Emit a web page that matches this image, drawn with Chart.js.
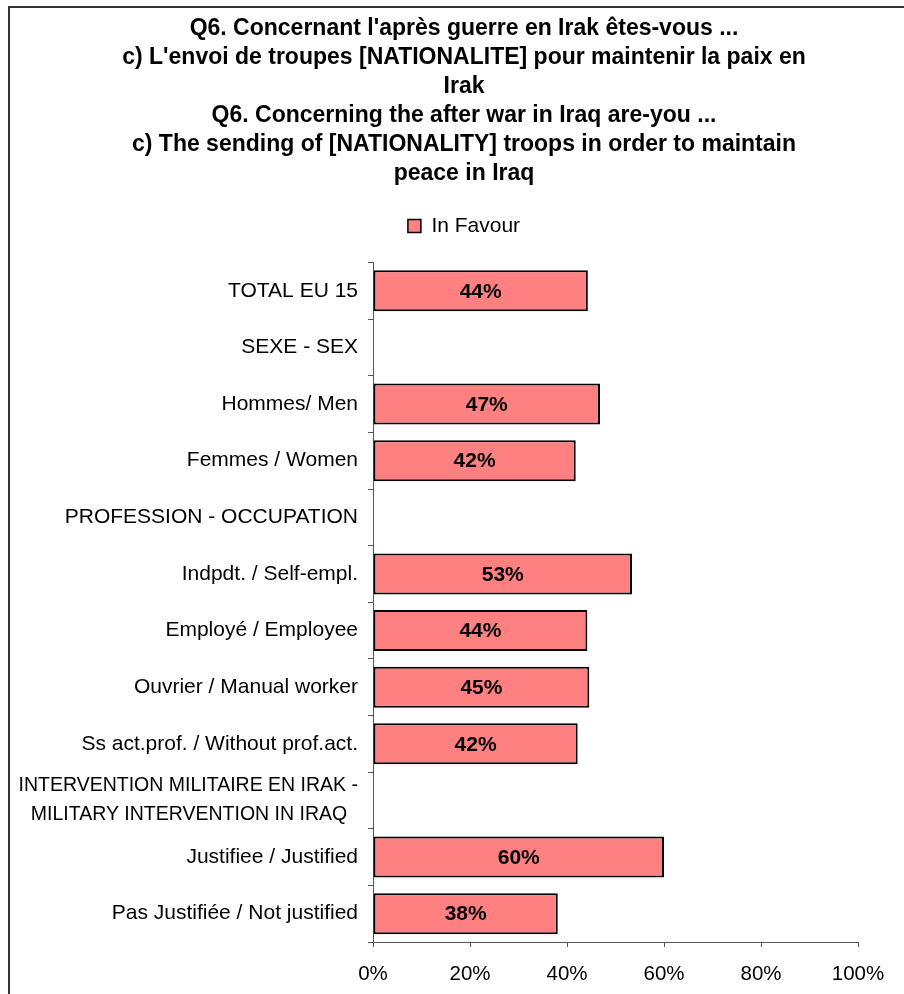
<!DOCTYPE html>
<html>
<head>
<meta charset="utf-8">
<script src="https://cdn.jsdelivr.net/npm/chart.js@4/dist/chart.umd.min.js"></script>
<style>
html,body{margin:0;padding:0;background:#fff;}
#wrap{width:904px;height:994px;position:relative;}
</style>
</head>
<body>
<div id="wrap"><canvas id="c" width="904" height="994"></canvas></div>
<script>
const titleLines = [
  "Q6. Concernant l'après guerre en Irak êtes-vous ...",
  "c) L'envoi de troupes [NATIONALITE] pour maintenir la paix en",
  "Irak",
  "Q6. Concerning the after war in Iraq are-you ...",
  "c) The sending of [NATIONALITY] troops in order to maintain",
  "peace in Iraq"
];
const categories = [
  "TOTAL EU 15",
  "SEXE - SEX",
  "Hommes/ Men",
  "Femmes / Women",
  "PROFESSION - OCCUPATION",
  "Indpdt. / Self-empl.",
  "Employé / Employee",
  "Ouvrier / Manual worker",
  "Ss act.prof. / Without prof.act.",
  ["INTERVENTION MILITAIRE EN IRAK -", "MILITARY INTERVENTION IN IRAQ  "],
  "Justifiee / Justified",
  "Pas Justifiée / Not justified"
];
const seriesName = "In Favour";
const inFavour = [44.3, null, 46.8, 41.8, null, 53.4, 44.2, 44.6, 42.2, null, 60.0, 38.1];
const xTicks = [0, 20, 40, 60, 80, 100];

const FONT = "'Liberation Sans', Arial, sans-serif";

const framePlugin = {
  id: 'frame',
  beforeDraw(chart) {
    const ctx = chart.ctx;
    ctx.save();
    ctx.fillStyle = '#fff';
    ctx.fillRect(0, 0, chart.width, chart.height);
    ctx.strokeStyle = '#333';
    ctx.lineWidth = 2;
    ctx.beginPath();
    ctx.moveTo(9, 994);
    ctx.lineTo(9, 7);
    ctx.lineTo(904, 7);
    ctx.stroke();
    ctx.restore();
  }
};

// extra space below the legend; let the category labels use the full left margin
const layoutTweaks = {
  id: 'layoutTweaks',
  beforeLayout(chart) {
    const lg = chart.legend;
    if (lg && !lg._gapPatched) {
      const orig = lg.fit;
      lg.fit = function () { orig.apply(this, arguments); this.height += 16; };
      lg._gapPatched = true;
    }
  },
  afterLayout(chart) {
    const y = chart.scales.y;
    if (y) y.left = 10;
  }
};

const valueLabels = {
  id: 'valueLabels',
  afterDatasetsDraw(chart) {
    const ctx = chart.ctx;
    ctx.save();
    ctx.font = "bold 21px " + FONT;
    ctx.fillStyle = '#000';
    ctx.textAlign = 'center';
    ctx.textBaseline = 'middle';
    chart.getDatasetMeta(0).data.forEach((el, i) => {
      const v = inFavour[i];
      if (v === null || v === undefined) return;
      const cx = (el.x + el.base) / 2;
      ctx.fillText(Math.round(v) + '%', cx, el.y + 1);
    });
    ctx.restore();
  }
};

new Chart(document.getElementById('c'), {
  type: 'bar',
  data: {
    labels: categories,
    datasets: [{
      label: seriesName,
      data: inFavour,
      backgroundColor: '#FF8080',
      borderColor: '#000',
      borderWidth: 2,
      borderSkipped: false,
      categoryPercentage: 1.0,
      barPercentage: 0.725
    }]
  },
  options: {
    indexAxis: 'y',
    responsive: false,
    animation: false,
    devicePixelRatio: 1,
    layout: { padding: { left: 70, right: 46, top: 14, bottom: 0 } },
    plugins: {
      title: {
        display: true,
        text: titleLines,
        color: '#000',
        font: { family: FONT, size: 23, weight: 'bold', lineHeight: 29 / 23 },
        padding: { top: 0, bottom: 1 }
      },
      legend: {
        display: true,
        labels: {
          color: '#000',
          font: { family: FONT, size: 21 },
          boxWidth: 13,
          boxHeight: 13,
          padding: 26.5,
          generateLabels(chart) {
            return [{
              text: seriesName,
              fillStyle: '#FF8080',
              strokeStyle: '#000',
              lineWidth: 1.5,
              datasetIndex: 0
            }];
          }
        }
      },
      tooltip: { enabled: false }
    },
    scales: {
      x: {
        min: 0,
        max: 100,
        afterBuildTicks(scale) { scale.ticks = xTicks.map(v => ({ value: v })); },
        ticks: {
          color: '#000',
          font: { family: FONT, size: 20.5 },
          padding: 15,
          callback: v => v + '%'
        },
        grid: { display: true, drawOnChartArea: false, drawTicks: true, tickLength: 5, color: '#555' },
        border: { display: true, color: '#555', width: 1 },
        afterFit(scale) { scale.height = 52; }
      },
      y: {
        ticks: {
          color: '#000',
          font: (c) => (c.index === 9
            ? { family: FONT, size: 19.5, lineHeight: 29 / 19.5 }
            : { family: FONT, size: 21 }),
          padding: 10,
          autoSkip: false
        },
        grid: { display: true, drawOnChartArea: false, drawTicks: true, tickLength: 5, color: '#555', offset: true },
        border: { display: true, color: '#555', width: 1 },
        afterFit(scale) { scale.width = 303; }
      }
    }
  },
  plugins: [framePlugin, layoutTweaks, valueLabels]
});
</script>
</body>
</html>
